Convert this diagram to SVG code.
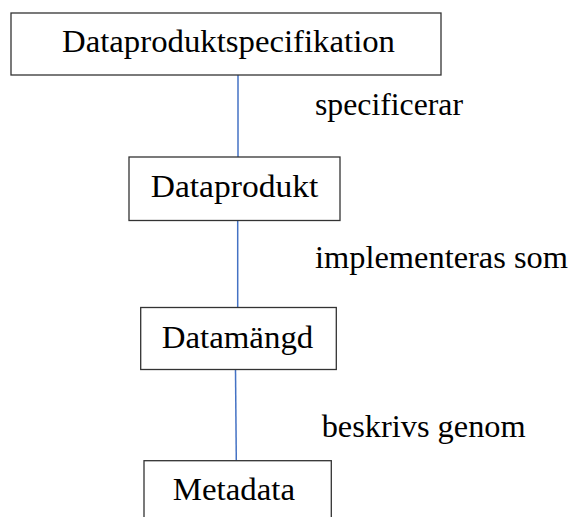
<svg xmlns="http://www.w3.org/2000/svg" width="573" height="517" viewBox="0 0 573 517">
<style>
.box{fill:#fff;stroke:#333;stroke-width:1.3}
.t{font-family:"Liberation Serif","Times New Roman",serif;font-size:32px;fill:#000}
.c{text-anchor:middle}
.edge{stroke:#4472C4;stroke-width:1.5;fill:none}
</style>
<rect width="573" height="517" fill="#fff"/>
<g id="connectors">
<line class="edge" x1="238" y1="75" x2="238" y2="157"/>
<line class="edge" x1="237.7" y1="220.5" x2="237.7" y2="307.5"/>
<line class="edge" x1="235.5" y1="369.5" x2="236.3" y2="460.7"/>
<text class="t" x="315" y="115" textLength="148" lengthAdjust="spacingAndGlyphs">specificerar</text>
<text class="t" x="315" y="268" textLength="253" lengthAdjust="spacingAndGlyphs">implementeras som</text>
<text class="t" x="321.7" y="437" textLength="204" lengthAdjust="spacingAndGlyphs">beskrivs genom</text>
</g>
<g id="node-dataproduktspecifikation">
<rect class="box" x="11" y="13" width="430" height="62"/>
<text class="t" x="62" y="52" textLength="333" lengthAdjust="spacingAndGlyphs">Dataproduktspecifikation</text>
</g>
<g id="node-dataprodukt">
<rect class="box" x="129" y="157" width="211" height="63.5"/>
<text class="t" x="150.7" y="197" textLength="167.6" lengthAdjust="spacingAndGlyphs">Dataprodukt</text>
</g>
<g id="node-datamangd">
<rect class="box" x="140.7" y="307.5" width="195.6" height="62"/>
<text class="t" x="161.7" y="348" textLength="151.6" lengthAdjust="spacingAndGlyphs">Datamängd</text>
</g>
<g id="node-metadata">
<rect class="box" x="144" y="460.7" width="187.3" height="80"/>
<text class="t" x="172.7" y="500" textLength="122.3" lengthAdjust="spacingAndGlyphs">Metadata</text>
</g>
</svg>
